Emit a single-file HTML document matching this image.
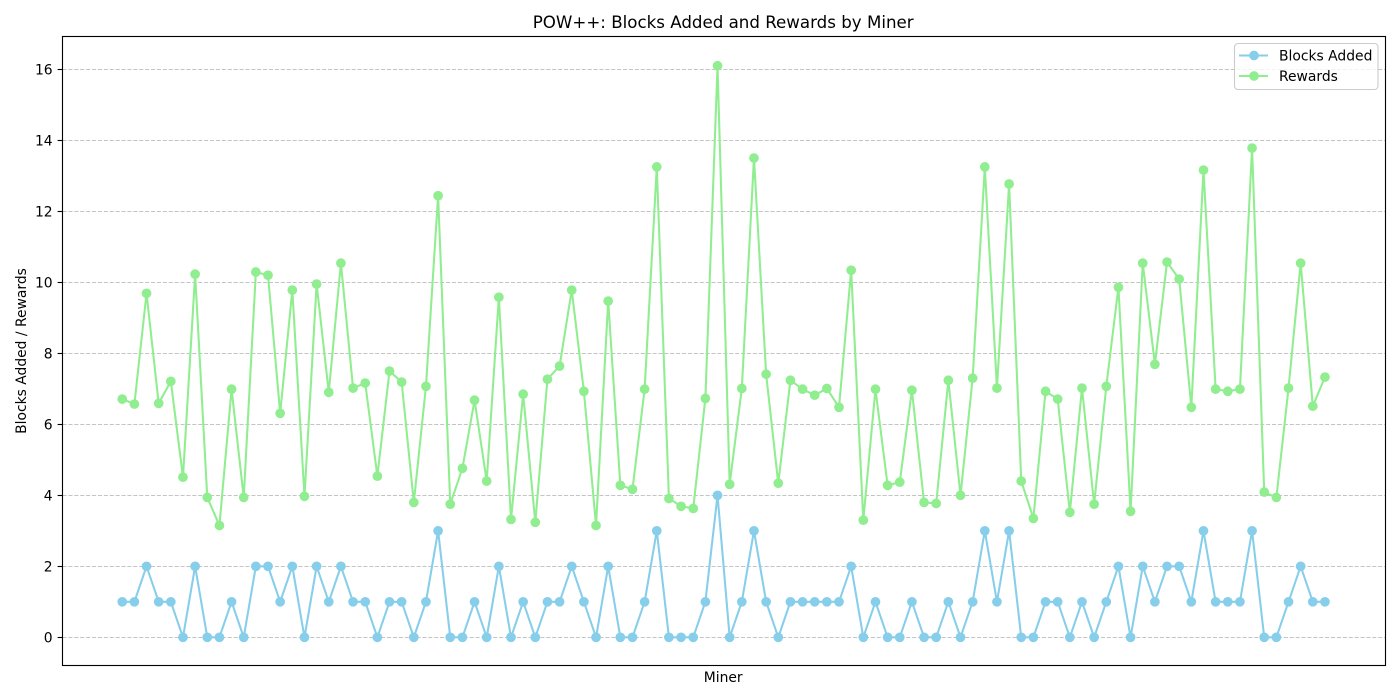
<!DOCTYPE html>
<html lang="en">
<head>
<meta charset="utf-8">
<title>POW++: Blocks Added and Rewards by Miner</title>
<style>
  html, body { margin: 0; padding: 0; background: #fff; }
  svg { display: block; }
  text { font-family: "DejaVu Sans", "Liberation Sans", sans-serif; fill: #000; }
</style>
</head>
<body>
<svg id="chart" xmlns="http://www.w3.org/2000/svg" width="1400" height="700" viewBox="0 0 1400 700">
  <rect x="0" y="0" width="1400" height="700" fill="#ffffff"/>
  <text x="723.2" y="28" font-size="16.67" text-anchor="middle">POW++: Blocks Added and Rewards by Miner</text>
  <text x="723.2" y="682" font-size="13.89" text-anchor="middle">Miner</text>
  <text transform="translate(26 351) rotate(-90)" font-size="13.89" text-anchor="middle">Blocks Added / Rewards</text>
  <g id="grid"></g>
  <g id="y-axis"></g>
  <g id="series"></g>
  <rect x="62.5" y="36.5" width="1323" height="629" fill="none" stroke="#000" stroke-width="1.11"/>
  <g>
    <rect x="1234.5" y="43.5" width="143.5" height="46" rx="3.5" fill="#ffffff" fill-opacity="0.8" stroke="#cccccc" stroke-width="1.11"/>
    <g>
      <line x1="1239" y1="55.5" x2="1268" y2="55.5" stroke="#87ceeb" stroke-width="2.08"/>
      <circle cx="1254" cy="55.5" r="4.86" fill="#87ceeb"/>
      <text x="1279" y="60.5" font-size="13.89">Blocks Added</text>
    </g>
    <g>
      <line x1="1239" y1="76" x2="1268" y2="76" stroke="#90ee90" stroke-width="2.08"/>
      <circle cx="1254" cy="76" r="4.86" fill="#90ee90"/>
      <text x="1279" y="81" font-size="13.89">Rewards</text>
    </g>
  </g>
</svg>
<script>
const blocksAdded = [1,1,2,1,1,0,2,0,0,1,0,2,2,1,2,0,2,1,2,1,1,0,1,1,0,1,3,0,0,1,0,2,0,1,0,1,1,2,1,0,2,0,0,1,3,0,0,0,1,4,0,1,3,1,0,1,1,1,1,1,2,0,1,0,0,1,0,0,1,0,1,3,1,3,0,0,1,1,0,1,0,1,2,0,2,1,2,2,1,3,1,1,1,3,0,0,1,2,1,1];
const rewards = [6.71,6.57,9.69,6.59,7.21,4.51,10.23,3.94,3.15,6.99,3.94,10.29,10.2,6.31,9.78,3.97,9.95,6.9,10.54,7.02,7.16,4.54,7.5,7.19,3.8,7.07,12.44,3.75,4.76,6.68,4.4,9.58,3.32,6.85,3.24,7.27,7.64,9.78,6.93,3.15,9.47,4.28,4.17,6.99,13.25,3.91,3.69,3.63,6.73,16.1,4.31,7.01,13.5,7.41,4.34,7.24,6.99,6.82,7.01,6.48,10.34,3.3,6.99,4.28,4.37,6.96,3.8,3.77,7.24,4,7.3,13.25,7.02,12.77,4.4,3.35,6.93,6.71,3.52,7.02,3.75,7.07,9.86,3.55,10.54,7.69,10.57,10.09,6.48,13.16,6.99,6.93,6.99,13.78,4.09,3.94,7.02,10.54,6.51,7.33];
const yTicks = [0,2,4,6,8,10,12,14,16];
const yTickLabels = ["0","2","4","6","8","10","12","14","16"];

const NS = "http://www.w3.org/2000/svg";
const plotLeft = 62.5, plotRight = 1385.5;
const pixelBottom = 665.7, pixelTop = 37.35;
const domainMin = -0.8, domainMax = 16.9;

function xScale(i) {
  const count = blocksAdded.length;
  const span = plotRight - plotLeft;
  return plotLeft - 0.4 + span * (0.05 + 1.0 * i / (count - 1)) / 1.1;
}
function yScale(v) {
  return pixelBottom - (v - domainMin) * (pixelBottom - pixelTop) / (domainMax - domainMin);
}
function make(tag, attrs, parent) {
  const el = document.createElementNS(NS, tag);
  Object.keys(attrs).forEach(function (k) { el.setAttribute(k, attrs[k]); });
  parent.appendChild(el);
  return el;
}

const gridGroup = document.getElementById("grid");
const axisGroup = document.getElementById("y-axis");
yTicks.forEach(function (t, i) {
  const y = Math.round(yScale(t) - 0.5) + 0.5;
  const gl = make("line", { x1: plotLeft, x2: plotRight, y1: y, y2: y, stroke: "#b0b0b0", "stroke-opacity": 0.75, "stroke-width": 1.11, "stroke-dasharray": "4.1 1.8" }, gridGroup);
  
  
  const tick = make("line", { x1: plotLeft - 4.86, x2: plotLeft, y1: y, y2: y, stroke: "#000", "stroke-width": 1.11 }, axisGroup);
  
  
  const label = make("text", { x: 52.6, y: y + 5, "font-size": 13.89, "text-anchor": "end" }, axisGroup);
  
  
  label.textContent = yTickLabels[i];
});

function drawSeries(values, color, name) {
  const layer = document.getElementById("series");
  const g = make("g", {}, layer);
  
  
  const pts = values.map(function (v, i) { return xScale(i).toFixed(2) + "," + yScale(v).toFixed(2); }).join(" ");
  const line = make("polyline", { points: pts, fill: "none", stroke: color, "stroke-width": 2.08, "stroke-linejoin": "round" }, g);
  
  
  values.forEach(function (v, i) {
    const dot = make("circle", { cx: xScale(i).toFixed(2), cy: yScale(v).toFixed(2), r: 4.86, fill: color }, g);
    
    
  });
}
drawSeries(blocksAdded, "#87ceeb", "blocks-added");
drawSeries(rewards, "#90ee90", "rewards");
</script>
</body>
</html>
